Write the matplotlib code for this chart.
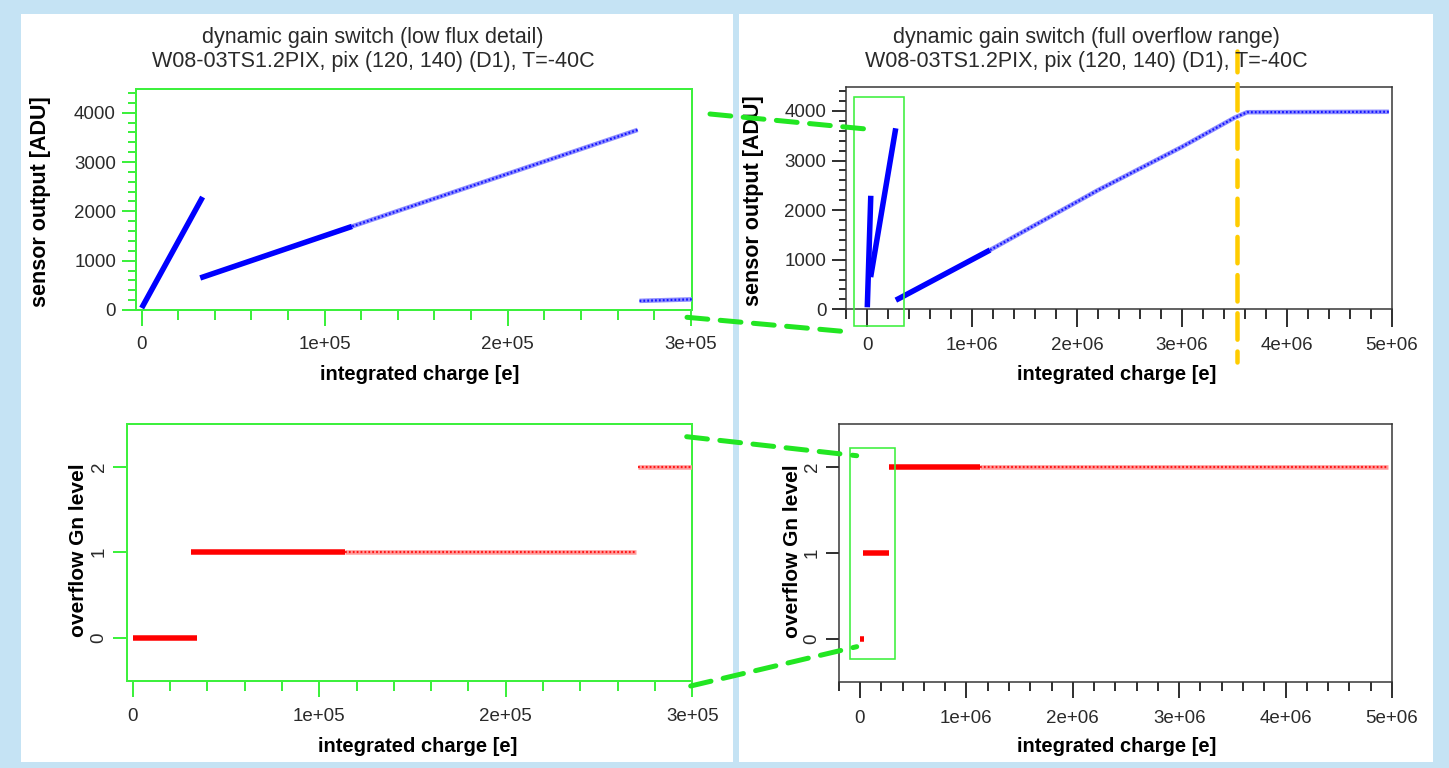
import matplotlib
matplotlib.use("Agg")
import matplotlib.pyplot as plt
from matplotlib.lines import Line2D
from matplotlib.patches import Rectangle
from matplotlib.ticker import MultipleLocator, FixedLocator, FuncFormatter

# ---------------------------------------------------------------- data
# sensor response per gain stage: charge [e] vs. ADC output [ADU]
charge_g0 = [0.0, 3.33e4]
adu_g0 = [40, 2290]
charge_g1 = [3.2e4, 1.15e5, 2.71e5]
adu_g1 = [650, 1695, 3651]
charge_g2 = [2.72e5, 3.0e5, 1.17e6, 2.2e6, 3.0e6, 3.5e6, 3.62e6, 4.97e6]
adu_g2 = [185, 215, 1196, 2405, 3278, 3865, 3975, 3984]

# overflow gain level reported by the pixel
gain_levels = [0, 1, 2]
charge_lvl0 = [0.0, 3.45e4]
charge_lvl1 = [3.15e4, 1.14e5, 2.70e5]
charge_lvl2 = [2.71e5, 1.13e6, 4.96e6]

saturation_charge = 3.527e6

title_left = ["dynamic gain switch (low flux detail)",
              "W08-03TS1.2PIX, pix (120, 140) (D1), T=-40C"]
title_right = ["dynamic gain switch (full overflow range)",
               "W08-03TS1.2PIX, pix (120, 140) (D1), T=-40C"]
xlabel = "integrated charge [e]"
ylabel_top = "sensor output [ADU]"
ylabel_bottom = "overflow Gn level"

# ---------------------------------------------------------------- setup
W, H, DPI = 1449, 768, 100
PT = 72.0 / DPI          # points per pixel

plt.rcParams['font.family'] = ['Liberation Sans', 'DejaVu Sans']
plt.rcParams['lines.scale_dashes'] = False

BG = '#c5e3f4'
GREEN = '#3df03d'
GREEN_DASH = '#22e622'
YELLOW = '#ffcc00'
BLUE = '#0000ff'
BLUE_LIGHT = '#8c8cff'
RED = '#ff0000'
RED_LIGHT = '#ff9a9a'
TXT = '#2a2a2a'

fig = plt.figure(figsize=(W / DPI, H / DPI), dpi=DPI, facecolor=BG)


def fx(px):
    return px / W


def fy(py):
    return 1 - py / H


def axes_px(x0, y0, x1, y1):
    return fig.add_axes([fx(x0), fy(y1), (x1 - x0) / W, (y1 - y0) / H])


# white panels
for (x0, y0, x1, y1) in [(21, 14, 733.3, 762), (738.5, 14, 1433.3, 762)]:
    fig.patches.append(Rectangle((fx(x0), fy(y1)), (x1 - x0) / W, (y1 - y0) / H,
                                 transform=fig.transFigure, facecolor='white',
                                 edgecolor='none', zorder=-10))


def trace(ax, xs, ys, n_dense, color, light, lw_dense=5.5, lw_sparse=4.5):
    """Solid run over the first n_dense segments, stippled run after."""
    if n_dense > 0:
        ax.plot(xs[:n_dense + 1], ys[:n_dense + 1], color=color,
                lw=lw_dense * PT, solid_capstyle='butt', zorder=3)
    if n_dense < len(xs) - 1:
        ax.plot(xs[n_dense:], ys[n_dense:], color=light,
                lw=lw_sparse * PT, solid_capstyle='butt', zorder=3)
        ax.plot(xs[n_dense:], ys[n_dense:], color=color,
                lw=2.2 * PT, linestyle=(0, (1.3, 1.5)),
                dash_capstyle='butt', zorder=3, alpha=0.85)


def style_axes(ax, color, spine_lw, xmajor, xminor, ymajor, yminor,
               xlen, ylen, xpad, ypad, yrot=0):
    for sp in ax.spines.values():
        sp.set_color(color)
        sp.set_linewidth(spine_lw * PT)
    ax.xaxis.set_major_locator(xmajor)
    ax.xaxis.set_minor_locator(xminor)
    ax.yaxis.set_major_locator(ymajor)
    if yminor is not None:
        ax.yaxis.set_minor_locator(yminor)
    ax.tick_params(axis='x', which='major', length=xlen[0] * PT, width=2 * PT,
                   color=color, direction='out', pad=xpad * PT,
                   labelsize=13.5, labelcolor=TXT)
    ax.tick_params(axis='x', which='minor', length=xlen[1] * PT, width=2 * PT,
                   color=color, direction='out')
    ax.tick_params(axis='y', which='major', length=ylen[0] * PT, width=2 * PT,
                   color=color, direction='out', pad=ypad * PT,
                   labelsize=13.5, labelcolor=TXT, labelrotation=yrot)
    ax.tick_params(axis='y', which='minor', length=ylen[1] * PT, width=2 * PT,
                   color=color, direction='out')
    if yrot:
        for lab in ax.get_yticklabels():
            lab.set_va('center')


sci = FuncFormatter(lambda v, p: '0' if v == 0 else '{:.0e}'.format(v))

# ---------------------------------------------------------------- top left
ax_tl = axes_px(136, 89, 692, 310)
ax_tl.set_xlim(-3.1e3, 3.007e5)
ax_tl.set_ylim(0, 4480)
trace(ax_tl, charge_g0, adu_g0, 1, BLUE, BLUE_LIGHT)
trace(ax_tl, charge_g1, adu_g1, 1, BLUE, BLUE_LIGHT)
trace(ax_tl, charge_g2, adu_g2, 0, BLUE, BLUE_LIGHT)
style_axes(ax_tl, GREEN, 2, MultipleLocator(1e5),
           FixedLocator([i * 2e4 for i in range(16)]),
           MultipleLocator(1000), FixedLocator([i * 200 for i in range(23)]),
           (16, 9.5), (14, 8), 10, 6)
ax_tl.xaxis.set_major_formatter(sci)

# ---------------------------------------------------------------- top right
ax_tr = axes_px(846.3, 86.7, 1392, 309.3)
ax_tr.set_xlim(-2e5, 5e6)
ax_tr.set_ylim(0, 4490)
trace(ax_tr, charge_g0, adu_g0, 1, BLUE, BLUE_LIGHT)
trace(ax_tr, charge_g1, adu_g1, 2, BLUE, BLUE_LIGHT)
trace(ax_tr, charge_g2, adu_g2, 2, BLUE, BLUE_LIGHT)
style_axes(ax_tr, '#333333', 1.5, MultipleLocator(1e6),
           FixedLocator([-2e5 + i * 2e5 for i in range(27)]),
           MultipleLocator(1000), FixedLocator([i * 200 for i in range(23)]),
           (18, 10), (14, 7), 10, 6)
ax_tr.xaxis.set_major_formatter(sci)
ax_tr.add_patch(Rectangle((-1.24e5, -331), 4.74e5, 4605, fill=False,
                          edgecolor=GREEN, lw=1.6 * PT, clip_on=False, zorder=4))
ax_tr.plot([saturation_charge, saturation_charge], [1.16, -0.2367],
           transform=ax_tr.get_xaxis_transform(), color=YELLOW, lw=4.5 * PT,
           linestyle=(4, (19, 8.5)), dash_capstyle='round', clip_on=False,
           zorder=5)

# ---------------------------------------------------------------- bottom left
ax_bl = axes_px(126.7, 424, 692.3, 680.7)
ax_bl.set_xlim(-3.2e3, 3.0e5)
ax_bl.set_ylim(-0.503, 2.5)
trace(ax_bl, charge_lvl0, [gain_levels[0]] * 2, 1, RED, RED_LIGHT)
trace(ax_bl, charge_lvl1, [gain_levels[1]] * 3, 1, RED, RED_LIGHT)
trace(ax_bl, charge_lvl2, [gain_levels[2]] * 3, 0, RED, RED_LIGHT)
style_axes(ax_bl, GREEN, 2, MultipleLocator(1e5),
           FixedLocator([i * 2e4 for i in range(16)]),
           FixedLocator(gain_levels), None,
           (16, 10), (14, 8), 11, 5, yrot=90)
ax_bl.xaxis.set_major_formatter(sci)

# ---------------------------------------------------------------- bottom right
ax_br = axes_px(838.7, 424, 1392, 681.7)
ax_br.set_xlim(-2e5, 5e6)
ax_br.set_ylim(-0.5, 2.5)
trace(ax_br, charge_lvl0, [gain_levels[0]] * 2, 1, RED, RED_LIGHT)
trace(ax_br, charge_lvl1, [gain_levels[1]] * 3, 2, RED, RED_LIGHT)
trace(ax_br, charge_lvl2, [gain_levels[2]] * 3, 1, RED, RED_LIGHT)
style_axes(ax_br, '#333333', 1.5, MultipleLocator(1e6),
           FixedLocator([-2e5 + i * 2e5 for i in range(27)]),
           FixedLocator(gain_levels), None,
           (16, 9), (13, 7), 12, 5, yrot=90)
ax_br.xaxis.set_major_formatter(sci)
ax_br.add_patch(Rectangle((-0.94e5, -0.24), 4.26e5, 2.46, fill=False,
                          edgecolor=GREEN, lw=1.6 * PT, clip_on=False, zorder=4))

for ax in (ax_tl, ax_tr, ax_bl, ax_br):
    ax.set_facecolor('white')

# ---------------------------------------------------------------- zoom connectors
for (x0, y0, x1, y1) in [(710, 114, 869, 129.3), (687, 317.3, 846.7, 331.7),
                         (686.7, 436.7, 856.7, 455.7), (690.7, 686, 856.7, 646.7)]:
    fig.add_artist(Line2D([fx(x0), fx(x1)], [fy(y0), fy(y1)],
                          transform=fig.transFigure, color=GREEN_DASH,
                          lw=5 * PT, linestyle=(0, (15, 9)),
                          dash_capstyle='round', zorder=6))

# ---------------------------------------------------------------- texts
for cx, lines in [(373, title_left), (1086, title_right)]:
    fig.text(fx(cx), fy(37), lines[0], ha='center', va='center',
             fontsize=15.5, color=TXT)
    fig.text(fx(cx), fy(62), lines[1], ha='center', va='center',
             fontsize=15.5, color=TXT)

bold = dict(fontweight='bold', color='black', ha='center', va='center')
fig.text(fx(420), fy(375), xlabel, fontsize=14.5, **bold)
fig.text(fx(1117), fy(375), xlabel, fontsize=14.5, **bold)
fig.text(fx(418), fy(746), xlabel, fontsize=14.5, **bold)
fig.text(fx(1117), fy(746), xlabel, fontsize=14.5, **bold)

fig.text(fx(41), fy(202), ylabel_top, rotation=90, fontsize=15.5, **bold)
fig.text(fx(754), fy(201), ylabel_top, rotation=90, fontsize=15.5, **bold)
fig.text(fx(79), fy(550), ylabel_bottom, rotation=90, fontsize=15, **bold)
fig.text(fx(793), fy(551), ylabel_bottom, rotation=90, fontsize=15, **bold)

fig.savefig('out.png', dpi=DPI, facecolor=BG)
